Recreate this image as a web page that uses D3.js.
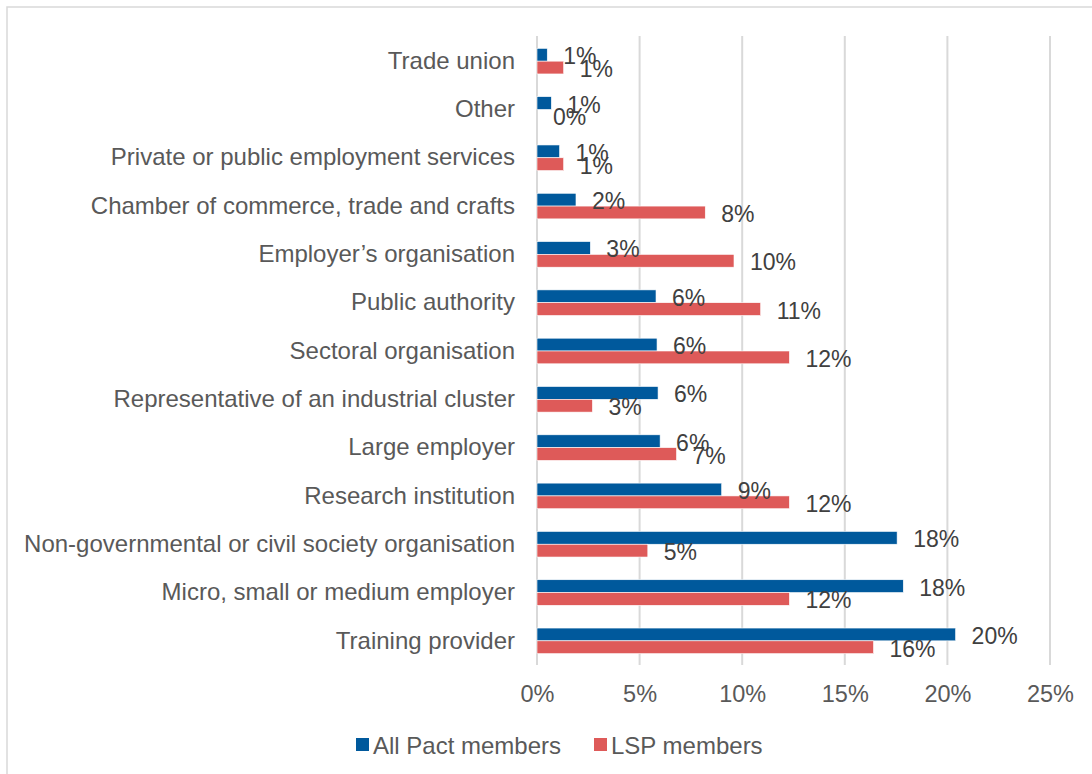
<!DOCTYPE html>
<html>
<head>
<meta charset="utf-8">
<script src="https://cdn.jsdelivr.net/npm/d3@7"></script>
<style>
  html, body { margin: 0; padding: 0; background: #fff; }
  svg { display: block; font-family: "Liberation Sans", Arial, sans-serif; }
</style>
</head>
<body>
<svg id="chart" width="1092" height="774"></svg>
<script>
// Member types, listed top to bottom
const categories = [
  "Trade union",
  "Other",
  "Private or public employment services",
  "Chamber of commerce, trade and crafts",
  "Employer\u2019s organisation",
  "Public authority",
  "Sectoral organisation",
  "Representative of an industrial cluster",
  "Large employer",
  "Research institution",
  "Non-governmental or civil society organisation",
  "Micro, small or medium employer",
  "Training provider"
];

const seriesNames = ["All Pact members", "LSP members"];

// Share of members (%) per category
const allPact = [0.5, 0.7, 1.1, 1.9, 2.6, 5.8, 5.85, 5.9, 6.0, 9.0, 17.55, 17.85, 20.4];
const lspMembers = [1.3, 0.0, 1.3, 8.2, 9.6, 10.9, 12.3, 2.7, 6.8, 12.3, 5.4, 12.3, 16.4];

const xTicks = [0, 5, 10, 15, 20, 25];
const colors = ["#00599C", "#DE5A59"];

const svg = d3.select("#chart");

// frame around the chart area
svg.append("rect")
  .attr("x", 7).attr("y", 7)
  .attr("width", 1200).attr("height", 900)
  .attr("fill", "none")
  .attr("stroke", "#d9d9d9")
  .attr("stroke-width", 1.5);

const x = d3.scaleLinear().domain([0, 25]).range([537, 1050]);
const y = d3.scaleBand().domain(categories).range([37, 665])
  .paddingInner(0.47).paddingOuter(0.235);
const ySub = d3.scaleBand().domain(seriesNames).range([0, y.bandwidth()]);

// vertical gridlines
svg.append("g").selectAll("line")
  .data(xTicks)
  .join("line")
  .attr("x1", d => x(d)).attr("x2", d => x(d))
  .attr("y1", 36).attr("y2", 665)
  .attr("stroke", "#d9d9d9")
  .attr("stroke-width", 2);

const rows = categories.map((c, i) => ({ cat: c, values: [allPact[i], lspMembers[i]] }));

const groups = svg.append("g").selectAll("g")
  .data(rows)
  .join("g")
  .attr("transform", d => `translate(0,${y(d.cat)})`);

groups.selectAll("rect")
  .data(d => d.values.map((v, j) => ({ v, s: seriesNames[j], j })))
  .join("rect")
  .attr("x", x(0))
  .attr("y", d => ySub(d.s))
  .attr("width", d => x(d.v) - x(0))
  .attr("height", ySub.bandwidth())
  .attr("fill", d => colors[d.j])
  .attr("stroke", "#fff")
  .attr("stroke-width", 0.6);

// value labels
groups.selectAll("text")
  .data(d => d.values.map((v, j) => ({ v, s: seriesNames[j], j })))
  .join("text")
  .attr("x", d => x(d.v) + 16)
  .attr("y", d => ySub(d.s) + ySub.bandwidth() / 2 + 1.5)
  .attr("dominant-baseline", "central")
  .attr("font-size", 23)
  .attr("fill", "#404040")
  .text(d => Math.round(d.v) + "%");

// category axis
const yAxis = svg.append("g")
  .attr("transform", `translate(${x(0)},0)`)
  .call(d3.axisLeft(y).tickSize(0).tickPadding(22));
yAxis.select(".domain").remove();
yAxis.selectAll("text")
  .attr("font-size", 24)
  .attr("font-family", "Liberation Sans, Arial, sans-serif")
  .attr("fill", "#595959");

// value axis
const xAxis = svg.append("g")
  .attr("transform", "translate(0,665)")
  .call(d3.axisBottom(x).tickValues(xTicks).tickSize(0).tickFormat(d => d + "%"));
xAxis.select(".domain").remove();
xAxis.selectAll("text")
  .attr("y", 29)
  .attr("dy", "0.35em")
  .attr("font-size", 23.5)
  .attr("font-family", "Liberation Sans, Arial, sans-serif")
  .attr("fill", "#595959");

// legend
const legendItems = [
  { name: seriesNames[0], color: colors[0], x: 356 },
  { name: seriesNames[1], color: colors[1], x: 594 }
];
const legend = svg.append("g").selectAll("g")
  .data(legendItems)
  .join("g")
  .attr("transform", d => `translate(${d.x},738)`);
legend.append("rect")
  .attr("width", 13).attr("height", 13)
  .attr("fill", d => d.color);
legend.append("text")
  .attr("x", 17).attr("y", 7)
  .attr("dominant-baseline", "central")
  .attr("font-size", 24)
  .attr("fill", "#595959")
  .text(d => d.name);
</script>
</body>
</html>
